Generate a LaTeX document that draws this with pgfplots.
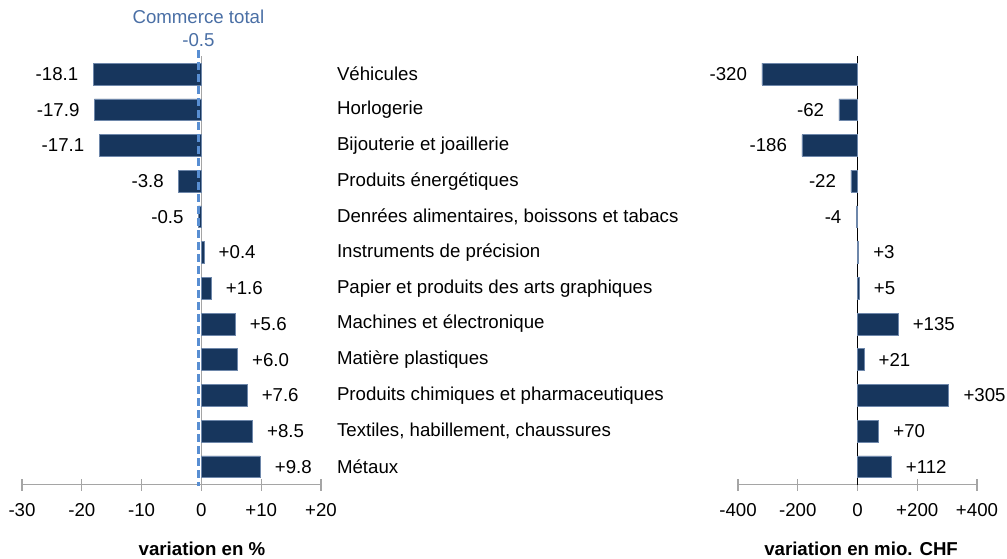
\documentclass[border=0pt]{standalone}
\usepackage{pgfplots}
\pgfplotsset{compat=1.18}
\usepackage{fontspec}
\setmainfont{Liberation Sans}
\definecolor{barcol}{RGB}{23,54,93}
\definecolor{barline}{RGB}{110,135,170}
\definecolor{dashcol}{RGB}{88,142,210}
\definecolor{ctot}{RGB}{74,111,165}
\definecolor{axgray}{RGB}{165,165,165}
\newcommand{\lf}{\fontsize{14}{16}\selectfont}

\begin{document}
\begin{tikzpicture}
\useasboundingbox (0,0) rectangle (755.25pt,419.25pt);
\pgfplotsset{
 panel/.style={
  scale only axis, height=321.3pt,
  ymin=-0.5, ymax=11.5, y dir=reverse,
  axis x line*=bottom, axis y line*=right,
  y axis line style={draw=none},
  x axis line style={axgray, line width=0.9pt, -},
  tick align=center, major tick length=9pt,
  xtick style={axgray, line width=0.9pt},
  ytick style={draw=none},
  ytick={0,...,11},
  xbar, bar width=0.61, bar shift=0pt,
  clip=false,
  tick label style={font=\lf},
  xticklabel style={yshift=-6pt},
  nodes near coords, point meta=explicit symbolic,
  every node near coord/.append style={font=\lf, text=black, inner xsep=11pt},
  xlabel style={anchor=center, yshift=-48pt, font=\bfseries\lf},
 },
 neg/.style={fill=barcol, draw=barline, line width=0.4pt, every node near coord/.append style={anchor=east}},
 pos/.style={fill=barcol, draw=barline, line width=0.4pt, every node near coord/.append style={anchor=west}},
}

% Left panel: variation en %
\begin{axis}[panel,
  at={(16.5pt,55.84pt)}, anchor=south west,
  width=224.25pt, xmin=-30, xmax=20,
  xtick={-30,-20,-10,0,10,20},
  xticklabels={-30,-20,-10,0,+10,+20},
  yticklabels={V\'ehicules, Horlogerie, Bijouterie et joaillerie, Produits \'energ\'etiques, {Denr\'ees alimentaires, boissons et tabacs}, Instruments de pr\'ecision, Papier et produits des arts graphiques, Machines et \'electronique, Mati\`ere plastiques, Produits chimiques et pharmaceutiques, {Textiles, habillement, chaussures}, M\'etaux},
  yticklabel style={anchor=west, xshift=-0.5pt, font=\lf},
  xlabel={variation en \%},
  xlabel style={at={(rel axis cs:0.602,0)}},
]
\draw[axgray, line width=0.9pt] (axis cs:0,-0.5) -- (axis cs:0,11.5);
\addplot[neg] coordinates {
 (-18.1,0) [-18.1]
 (-17.9,1) [-17.9]
 (-17.1,2) [-17.1]
 (-3.8,3) [-3.8]
 (-0.5,4) [-0.5]
};
\addplot[pos] coordinates {
 (0.4,5) [+0.4]
 (1.6,6) [+1.6]
 (5.6,7) [+5.6]
 (6.0,8) [+6.0]
 (7.6,9) [+7.6]
 (8.5,10) [+8.5]
 (9.8,11) [+9.8]
};
\draw[dashcol, line width=2.6pt, dash pattern=on 6pt off 3pt] (axis cs:-0.5,-0.67) -- (axis cs:-0.5,11.55);
\node[ctot, font=\lf, anchor=base] at (axis cs:-0.5,-0.67) [yshift=2.6pt] {-0.5};
\node[ctot, font=\lf, anchor=base] at (axis cs:-0.5,-0.67) [yshift=20pt] {Commerce total};
\end{axis}

% Right panel: variation en mio. CHF
\begin{axis}[panel,
  at={(553.5pt,55.84pt)}, anchor=south west,
  width=179.25pt, xmin=-400, xmax=400,
  xtick={-400,-200,0,200,400},
  xticklabels={-400,-200,0,+200,+400},
  yticklabels={},
  xlabel={variation en mio. CHF},
  xlabel style={at={(rel axis cs:0.515,0)}},
]
\draw[black, line width=0.9pt] (axis cs:0,-0.5) -- (axis cs:0,11.5);
\addplot[neg] coordinates {
 (-320,0) [-320]
 (-62,1) [-62]
 (-186,2) [-186]
 (-22,3) [-22]
 (-4,4) [-4]
};
\addplot[pos] coordinates {
 (3,5) [+3]
 (5,6) [+5]
 (135,7) [+135]
 (21,8) [+21]
 (305,9) [+305]
 (70,10) [+70]
 (112,11) [+112]
};
\end{axis}
\end{tikzpicture}
\end{document}
